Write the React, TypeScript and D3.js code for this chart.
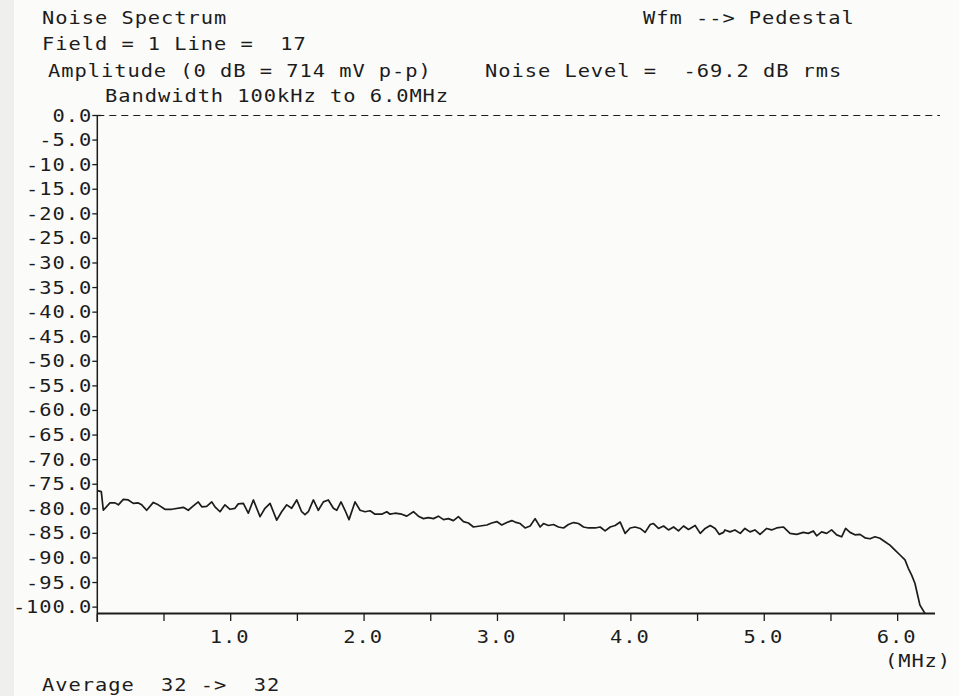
import React from "react";
import * as d3 from "d3";

const freqMHz = [
  0.0, 0.03, 0.045, 0.095, 0.133, 0.158, 0.195, 0.232, 0.27, 0.307, 0.333, 0.37, 0.42, 0.457, 0.507,
  0.558, 0.645, 0.682, 0.72, 0.757, 0.783, 0.82, 0.858, 0.882, 0.92, 0.957, 0.995, 1.032, 1.057, 1.095,
  1.132, 1.17, 1.22, 1.257, 1.295, 1.345, 1.382, 1.42, 1.457, 1.495, 1.532, 1.557, 1.582, 1.62, 1.657,
  1.695, 1.732, 1.77, 1.795, 1.827, 1.857, 1.887, 1.932, 1.97, 2.007, 2.045, 2.082, 2.132, 2.17, 2.195,
  2.232, 2.282, 2.32, 2.37, 2.407, 2.445, 2.482, 2.52, 2.557, 2.595, 2.632, 2.67, 2.707, 2.745, 2.782,
  2.82, 2.87, 2.92, 2.957, 2.995, 3.032, 3.07, 3.107, 3.132, 3.17, 3.207, 3.245, 3.282, 3.32, 3.345,
  3.382, 3.42, 3.457, 3.495, 3.532, 3.57, 3.607, 3.645, 3.682, 3.732, 3.77, 3.807, 3.845, 3.882, 3.92,
  3.957, 3.995, 4.032, 4.07, 4.107, 4.145, 4.17, 4.207, 4.245, 4.282, 4.32, 4.357, 4.395, 4.432, 4.482,
  4.52, 4.557, 4.595, 4.632, 4.662, 4.695, 4.705, 4.743, 4.78, 4.82, 4.855, 4.893, 4.93, 4.968, 5.018,
  5.055, 5.093, 5.143, 5.193, 5.243, 5.293, 5.33, 5.368, 5.393, 5.43, 5.468, 5.505, 5.543, 5.58, 5.61,
  5.643, 5.68, 5.718, 5.755, 5.793, 5.83, 5.867, 5.905, 5.942, 5.98, 6.018, 6.055, 6.08, 6.105, 6.13,
  6.15, 6.167, 6.205,
];

const levelDb = [
  -76.3, -76.5, -80.3, -78.8, -78.8, -79.2, -78.1, -78.2, -78.9, -78.8, -79.2, -80.3, -78.7, -79.2, -80.1,
  -80.1, -79.7, -80.3, -79.4, -78.6, -79.6, -79.5, -78.6, -79.6, -80.6, -79.2, -80.1, -79.9, -79.0, -78.9,
  -80.9, -78.2, -81.6, -79.9, -78.9, -82.3, -80.6, -79.2, -79.9, -78.2, -80.6, -81.2, -80.6, -78.2, -80.3,
  -78.6, -78.2, -79.9, -80.3, -78.6, -80.3, -82.2, -78.6, -80.3, -80.6, -80.4, -81.1, -81.1, -80.6, -81.1,
  -80.9, -81.1, -81.5, -80.6, -81.5, -82.0, -81.8, -82.0, -81.5, -82.2, -82.0, -82.4, -81.6, -82.6, -82.9,
  -83.7, -83.5, -83.3, -82.9, -82.6, -83.3, -82.8, -82.4, -82.7, -83.0, -83.9, -83.5, -82.0, -83.7, -83.0,
  -83.4, -83.2, -83.7, -83.9, -83.2, -82.8, -83.0, -83.7, -83.9, -83.9, -83.7, -84.5, -83.7, -83.4, -82.7,
  -85.0, -83.9, -83.7, -84.0, -84.8, -83.2, -83.0, -84.0, -83.5, -84.3, -83.7, -84.5, -83.5, -84.2, -83.4,
  -85.0, -84.0, -83.4, -84.0, -85.2, -84.8, -84.3, -84.7, -84.3, -85.0, -84.0, -84.7, -84.3, -85.2, -84.0,
  -84.3, -83.9, -83.7, -85.0, -85.2, -84.8, -85.0, -84.5, -85.5, -84.7, -85.0, -84.3, -85.3, -85.7, -84.0,
  -84.8, -85.3, -85.2, -85.9, -86.1, -85.7, -86.0, -86.7, -87.4, -88.4, -89.4, -90.4, -92.1, -93.5, -95.2,
  -97.6, -99.6, -101.3,
];

const yTicks = [0, -5, -10, -15, -20, -25, -30, -35, -40, -45, -50, -55, -60, -65, -70, -75, -80, -85, -90, -95, -100];
const xTicks = [0, 0.5, 1, 1.5, 2, 2.5, 3, 3.5, 4, 4.5, 5, 5.5, 6];
const xLabels = [1, 2, 3, 4, 5, 6];

const headerLines = [
  { text: "Noise Spectrum", x: 42, y: 24 },
  { text: "Field = 1 Line =  17", x: 42, y: 50 },
  { text: "Amplitude (0 dB = 714 mV p-p)", x: 48, y: 77 },
  { text: "Noise Level =  -69.2 dB rms", x: 485, y: 77 },
  { text: "Wfm --> Pedestal", x: 643, y: 24 },
  { text: "Bandwidth 100kHz to 6.0MHz", x: 105, y: 102 },
];

const W = 959;
const H = 696;
const FONT = "'DejaVu Sans Mono', 'Liberation Mono', monospace";
const INK = "#1c1c1c";
const SX = 1.2;

function Txt(props: { x: number; y: number; anchor?: "start" | "middle" | "end"; children: string }) {
  const { x, y, anchor = "start", children } = props;
  return (
    <g transform={`translate(${x},${y}) scale(${SX},1)`}>
      <text
        x={0}
        y={0}
        textAnchor={anchor}
        xmlSpace="preserve"
        fontFamily={FONT}
        fontSize={17}
        letterSpacing={0.8}
        fill={INK}
        style={{ whiteSpace: "pre" }}
      >
        {children}
      </text>
    </g>
  );
}

export default function App() {
  const x = d3.scaleLinear().domain([0, 6.28]).range([97.3, 935]);
  const y = d3.scaleLinear().domain([-101.3, 0]).range([613.5, 115.5]);
  const data = freqMHz.map((f, i) => [f, levelDb[i]] as [number, number]);
  const line = d3
    .line<[number, number]>()
    .x((d) => x(d[0]))
    .y((d) => y(d[1]));

  return (
    <svg
      width={W}
      height={H}
      style={{ position: "absolute", left: 0, top: 0, background: "#fbfbfa" }}
    >
      <rect x={0} y={0} width={W} height={H} fill="#fbfbfa" />
      <rect x={0} y={0} width={14} height={H} fill="#efefed" />
      {headerLines.map((h) => (
        <Txt key={h.text} x={h.x} y={h.y}>
          {h.text}
        </Txt>
      ))}
      <line
        x1={x(0)}
        x2={940}
        y1={y(0)}
        y2={y(0)}
        stroke={INK}
        strokeWidth={1.2}
        strokeDasharray="7 5"
      />
      <line x1={x(0)} x2={x(0)} y1={y(0)} y2={622} stroke={INK} strokeWidth={1.5} />
      {yTicks.map((t) => (
        <g key={t}>
          <line x1={x(0) - 5} x2={t === 0 ? x(0) + 4 : x(0)} y1={y(t)} y2={y(t)} stroke={INK} strokeWidth={1.3} />
          <Txt x={x(0) - 5} y={y(t) + 6} anchor="end">
            {t.toFixed(1)}
          </Txt>
        </g>
      ))}
      <line x1={x(0)} x2={935} y1={613.5} y2={613.5} stroke={INK} strokeWidth={1.8} />
      {xTicks.map((t) => (
        <line key={t} x1={x(t)} x2={x(t)} y1={613.5} y2={621} stroke={INK} strokeWidth={1.3} />
      ))}
      {xLabels.map((t) => (
        <Txt key={t} x={x(t) - 1} y={643} anchor="middle">
          {t.toFixed(1)}
        </Txt>
      ))}
      <Txt x={918} y={667} anchor="middle">
        (MHz)
      </Txt>
      <Txt x={42} y={691}>
        {"Average  32 ->  32"}
      </Txt>
      <path d={line(data) ?? ""} fill="none" stroke={INK} strokeWidth={1.7} strokeLinejoin="round" />
    </svg>
  );
}
